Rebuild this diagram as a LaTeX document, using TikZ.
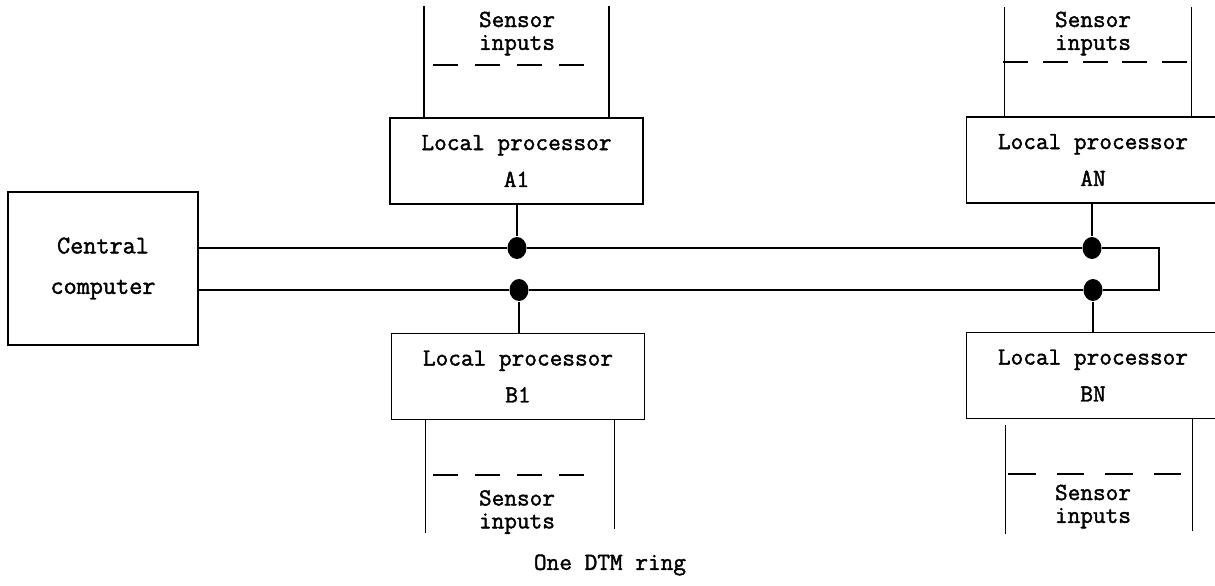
\documentclass[tikz,border=0pt]{standalone}
\usepackage{fontspec}
\setmonofont[FakeBold=1.6]{Latin Modern Mono}
\usetikzlibrary{shapes.geometric, calc, positioning}

\begin{document}
\begin{tikzpicture}[line width=1pt,
  box/.style={draw, line width=1.1pt, align=center, inner sep=0pt,
              font=\ttfamily\fontsize{14}{21}\selectfont},
  lpbox/.style={box, minimum width=5.06cm, minimum height=1.72cm},
  tap/.style={ellipse, fill, inner sep=0pt, minimum width=0.38cm, minimum height=0.44cm},
  sens/.style={align=center, font=\ttfamily\fontsize{14}{13}\selectfont},
  chan/.style={dash pattern=on 0.5cm off 0.34cm}]
  \clip (0,0) rectangle (24.3,-11.72);

  % central computer and the four local processors
  \node[box, minimum width=3.8cm, minimum height=3.06cm, font=\ttfamily\fontsize{14.5}{23}\selectfont] (cc) at (2.06,-5.37) {Central\\computer};
  \node[lpbox] (a1) at (10.33,-3.22) {Local processor\\A1};
  \node[lpbox] (b1) at (10.36,-7.53) {Local processor\\B1};
  \node[lpbox] (an) at (21.86,-3.20) {Local processor\\AN};
  \node[lpbox] (bn) at (21.86,-7.51) {Local processor\\BN};

  % taps on the ring
  \node[tap] (ta1) at (10.34,-4.96) {};
  \node[tap] (tb1) at (10.38,-5.80) {};
  \node[tap] (tan) at (21.84,-4.96) {};
  \node[tap] (tbn) at (21.86,-5.80) {};
  \coordinate (turn) at (23.18,-4.96);

  \draw (cc.east |- ta1) -- (ta1) -- (tan) -- (turn) |- (tbn) -- (tb1) -- (cc.east |- tb1);
  \draw (a1.south -| ta1) -- (ta1);
  \draw (b1.north -| tb1) -- (tb1);
  \draw (an.south -| tan) -- (tan);
  \draw (bn.north -| tbn) -- (tbn);

  % sensor inputs
  \draw ($(a1.north west)+(0.70,0)$) -- ++(0,2.22);
  \draw ($(a1.north east)+(-0.70,0)$) -- ++(0,2.22);
  \draw[chan] (8.66,-1.30) -- (11.84,-1.30);
  \node[sens] (sa1) at (10.34,-0.67) {Sensor\\inputs};

  \draw ($(an.north west)+(0.78,0)$) -- ++(0,2.18);
  \draw ($(an.north west)+(4.52,0)$) -- ++(0,2.18);
  \draw[chan, dash pattern=on 0.5cm off 0.295cm] (20.06,-1.24) -- (23.74,-1.24);
  \node[sens] (san) at (21.86,-0.67) {Sensor\\inputs};

  \draw ($(b1.south west)+(0.70,0)$) -- ++(0,-2.26);
  \draw ($(b1.south east)+(-0.62,0)$) -- ++(0,-2.18);
  \draw[chan] (8.66,-9.50) -- (12.00,-9.50);
  \node[sens] (sb1) at (10.34,-10.24) {Sensor\\inputs};

  \draw ($(bn.south west)+(0.80,-0.12)$) -- ++(0,-2.18);
  \draw ($(bn.south west)+(4.54,0)$) -- ++(0,-2.24);
  \draw[chan, dash pattern=on 0.55cm off 0.42cm] (20.16,-9.48) -- (23.62,-9.48);
  \node[sens] (sbn) at (21.86,-10.13) {Sensor\\inputs};

  \node[font=\ttfamily\fontsize{14}{13}\selectfont] (ring) at (12.2,-11.3) {One DTM ring};
\end{tikzpicture}
\end{document}
